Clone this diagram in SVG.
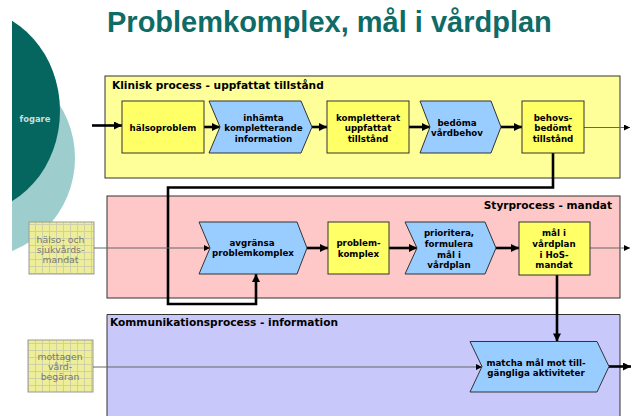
<svg xmlns="http://www.w3.org/2000/svg" width="638" height="416" viewBox="0 0 638 416">
  <defs>
    <style>
      .title { font-family: "Liberation Sans", Arial, sans-serif; font-weight: bold; font-size: 29px; fill: #0f6b66; }
      .lane { stroke: #333; stroke-width: 1; }
      .lane-label { font-family: "DejaVu Sans", Verdana, sans-serif; font-weight: bold; font-size: 10.6px; fill: #000; }
      .state { fill: #ffff66; stroke: #333; stroke-width: 1; }
      .func { fill: #99ccff; stroke: #333; stroke-width: 1; }
      .txt { font-family: "DejaVu Sans", Verdana, sans-serif; font-weight: bold; font-size: 8.7px; fill: #000; text-anchor: middle; }
      .ext { fill: url(#grid); stroke: #999; stroke-width: 1; }
      .ext-txt { font-family: "DejaVu Sans", Verdana, sans-serif; font-size: 9.3px; fill: #777; text-anchor: middle; }
      .flow { fill: none; stroke: #000; stroke-width: 2.6; marker-end: url(#head); }
      .thin { fill: none; stroke: #666; stroke-width: 1; marker-end: url(#small); }
    </style>
    <pattern id="grid" width="7" height="7" patternUnits="userSpaceOnUse">
      <rect width="7" height="7" fill="#eeee99"/>
      <path d="M0 0.5H7M0.5 0V7" stroke="#cfcfa8" stroke-width="1"/>
    </pattern>
    <marker id="head" viewBox="0 0 10 10" refX="10" refY="5" markerWidth="9" markerHeight="8" markerUnits="userSpaceOnUse" orient="auto">
      <path d="M0 0L10 5L0 10Z" fill="#000"/>
    </marker>
    <marker id="small" viewBox="0 0 10 10" refX="10" refY="5" markerWidth="7" markerHeight="6" markerUnits="userSpaceOnUse" orient="auto">
      <path d="M0 0L10 5L0 10Z" fill="#000"/>
    </marker>
  </defs>

  <rect width="638" height="416" fill="#fff"/>

  <!-- decorative circles at the left edge -->
  <g id="deco">
    <ellipse cx="-25" cy="158" rx="100" ry="100" fill="#9dcdcd"/>
    <ellipse cx="-30" cy="111" rx="90" ry="102" fill="#05665f"/>
    <rect x="0" y="0" width="12" height="416" fill="#fff"/>
    <text x="35" y="122" font-family="DejaVu Sans, Verdana, sans-serif" font-weight="bold" font-size="8.4" fill="#c9dedc" text-anchor="middle">fogare</text>
  </g>

  <text class="title" x="107" y="32">Problemkomplex, mål i vårdplan</text>

  <!-- swimlanes -->
  <g id="lane-klinisk">
    <rect class="lane" x="105" y="76" width="515" height="102" fill="#ffff99"/>
    <text class="lane-label" x="112" y="88.5">Klinisk process - uppfattat tillstånd</text>
  </g>
  <g id="lane-styr">
    <rect class="lane" x="107" y="196" width="513" height="102" fill="#ffc8c8"/>
    <text class="lane-label" x="612" y="208.5" text-anchor="end">Styrprocess - mandat</text>
  </g>
  <g id="lane-kommunikation">
    <path class="lane" d="M107 420V314.5H620V420" fill="#c8c8fa"/>
    <text class="lane-label" x="110" y="326">Kommunikationsprocess - information</text>
  </g>

  <!-- external inputs -->
  <g id="in-mandat">
    <rect class="ext" x="29" y="222" width="65" height="52"/>
    <text class="ext-txt" x="60.5" y="243">hälso- och</text>
    <text class="ext-txt" x="60.5" y="253">sjukvårds-</text>
    <text class="ext-txt" x="60.5" y="263">mandat</text>
  </g>
  <g id="in-begaran">
    <rect class="ext" x="28" y="340" width="65" height="52"/>
    <text class="ext-txt" x="60" y="359.5">mottagen</text>
    <text class="ext-txt" x="60" y="369.5">vård-</text>
    <text class="ext-txt" x="60" y="379.5">begäran</text>
  </g>

  <!-- connectors -->
  <g id="connectors">
    <path class="flow" d="M92 125.5H122"/>
    <path class="flow" d="M204 127H220"/>
    <path class="flow" d="M312 127H327"/>
    <path class="flow" d="M409 127H430"/>
    <path class="flow" d="M501 127H522"/>
    <path class="thin" d="M584 127.5H630"/>
    <path class="flow" d="M553 153V187.5H168V304H256V274"/>
    <path class="thin" d="M94 248H210"/>
    <path class="flow" d="M307 248H328"/>
    <path class="flow" d="M389 248H417"/>
    <path class="flow" d="M496 248H519"/>
    <path class="thin" d="M590 248H630"/>
    <path class="flow" d="M557 275V341.5"/>
    <path class="thin" d="M93 367H482"/>
    <path class="flow" d="M609 366.5H631"/>
  </g>

  <!-- Klinisk process nodes -->
  <g id="halsoproblem">
    <rect class="state" x="122" y="101" width="82" height="52"/>
    <text class="txt" x="163" y="130.5">hälsoproblem</text>
  </g>
  <g id="inhamta">
    <path class="func" d="M209 101H301L312 127L301 153H209L220 127Z"/>
    <text class="txt" x="263.5" y="120.5">inhämta</text>
    <text class="txt" x="263.5" y="131">kompletterande</text>
    <text class="txt" x="263.5" y="141.5">information</text>
  </g>
  <g id="kompletterat">
    <rect class="state" x="327" y="101" width="82" height="52"/>
    <text class="txt" x="368" y="120.5">kompletterat</text>
    <text class="txt" x="368" y="131">uppfattat</text>
    <text class="txt" x="368" y="141.5">tillstånd</text>
  </g>
  <g id="bedoma">
    <path class="func" d="M420 101H491L501 127L491 153H420L430 127Z"/>
    <text class="txt" x="457" y="125.7">bedöma</text>
    <text class="txt" x="457" y="136">vårdbehov</text>
  </g>
  <g id="behovsbedomt">
    <rect class="state" x="522" y="101" width="62" height="52"/>
    <text class="txt" x="553" y="120.5">behovs-</text>
    <text class="txt" x="553" y="131">bedömt</text>
    <text class="txt" x="553" y="141.5">tillstånd</text>
  </g>

  <!-- Styrprocess nodes -->
  <g id="avgransa">
    <path class="func" d="M199 222H297L307 248L297 274H199L210 248Z"/>
    <text class="txt" x="252" y="245.5">avgränsa</text>
    <text class="txt" x="253" y="256.3">problemkomplex</text>
  </g>
  <g id="problemkomplex">
    <rect class="state" x="328" y="222" width="61" height="52"/>
    <text class="txt" x="358.5" y="246.3">problem-</text>
    <text class="txt" x="358.5" y="257">komplex</text>
  </g>
  <g id="prioritera">
    <path class="func" d="M405 222H485L496 248L485 274H405L417 248Z"/>
    <text class="txt" x="449" y="236.3">prioritera,</text>
    <text class="txt" x="449" y="247">formulera</text>
    <text class="txt" x="449" y="257.7">mål i</text>
    <text class="txt" x="449" y="268.3">vårdplan</text>
  </g>
  <g id="mal-vardplan">
    <rect class="state" x="519" y="222" width="71" height="53"/>
    <text class="txt" x="554" y="236.3">mål i</text>
    <text class="txt" x="554" y="247">vårdplan</text>
    <text class="txt" x="554" y="257.7">i HoS-</text>
    <text class="txt" x="554" y="268.3">mandat</text>
  </g>

  <!-- Kommunikationsprocess node -->
  <g id="matcha">
    <path class="func" d="M470 341.5H597L609 366.5L597 392H470L482 366.5Z"/>
    <text class="txt" x="536" y="365.7">matcha mål mot till-</text>
    <text class="txt" x="536" y="376.3">gängliga aktiviteter</text>
  </g>
</svg>
